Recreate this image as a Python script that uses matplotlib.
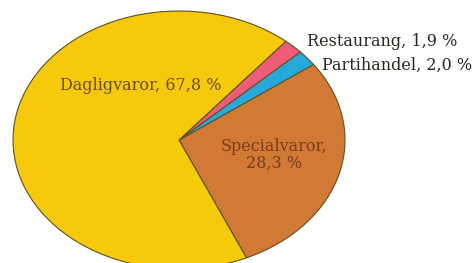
import matplotlib.pyplot as plt

# Data
categories = ['Specialvaror', 'Partihandel', 'Restaurang', 'Dagligvaror']
shares = [28.3, 2.0, 1.9, 67.8]
colors = ['#D07A36', '#27A9DC', '#EF5C78', '#F7C90B']

# where each label sits (data coords of the unit pie), alignment, text colour
label_pos = {
    'Specialvaror': (0.57, -0.115, 'center', '#7a3c18'),
    'Partihandel': (0.861, 0.58, 'left', '#2b2620'),
    'Restaurang': (0.771, 0.76, 'left', '#2b2620'),
    'Dagligvaror': (-0.229, 0.426, 'center', '#6e4a1e'),
}


def pct(val):
    # Swedish decimal comma
    return f"{val:.1f}".replace('.', ',') + " %"


fig = plt.figure(figsize=(4.74, 2.63), dpi=100)
# elliptical pie: stretch the unit pie into a wider-than-tall axes
ax = fig.add_axes([13 / 474, -6 / 263, 332 / 474, 258 / 263])

wedges, _ = ax.pie(
    shares,
    colors=colors,
    startangle=-66,
    counterclock=True,
    radius=1,
    wedgeprops=dict(edgecolor='#5e5222', linewidth=0.8),
)
ax.set_aspect('auto')
ax.set_xlim(-1, 1)
ax.set_ylim(-1, 1)
ax.axis('off')

for name, val in zip(categories, shares):
    x, y, ha, col = label_pos[name]
    if name == 'Specialvaror':
        label = f"{name},\n{pct(val)}"
    else:
        label = f"{name}, {pct(val)}"
    ax.text(x, y, label, ha=ha, va='center', linespacing=1.0,
            family='DejaVu Serif', fontsize=11.5, color=col)

fig.savefig('out.png', dpi=100)
